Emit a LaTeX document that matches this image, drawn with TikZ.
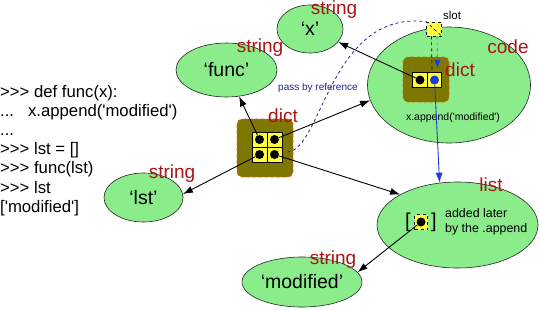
\documentclass[tikz,border=0pt]{standalone}
\usepackage{fontspec}
\setmainfont{Liberation Sans}
\usetikzlibrary{shapes.geometric,arrows.meta}
\definecolor{blobgreen}{HTML}{8AEC8A}
\definecolor{typered}{HTML}{A81616}
\definecolor{olivebox}{HTML}{7F7800}
\definecolor{dashorange}{HTML}{E0600A}
\definecolor{cellyellow}{HTML}{FFFF40}
\definecolor{navy}{HTML}{22228C}
\definecolor{refblue}{HTML}{1A3CD8}
\definecolor{slotgreen}{HTML}{1A8A4A}
\tikzset{
  blob/.style={ellipse, draw=black!85, line width=0.6pt, fill=blobgreen, inner sep=0pt, font=\fontsize{19.5}{20}\selectfont},
  typelbl/.style={text=typered, font=\fontsize{19}{20}\selectfont, inner sep=0pt},
  dictbox/.style={rectangle, rounded corners=5pt, fill=olivebox, draw=dashorange, dashed, line width=0.8pt},
  cell/.style={rectangle, fill=cellyellow, draw=black, line width=0.7pt, minimum width=15pt, minimum height=15pt, inner sep=0pt},
  dotnode/.style={circle, fill=black, minimum size=9pt, inner sep=0pt},
  codeline/.style={anchor=base west, inner sep=0pt, font=\fontsize{16.7}{19}\selectfont},
  refarrow/.style={draw=black, line width=0.9pt, -{Latex[length=10pt,width=7pt]}},
}
\begin{document}
\begin{tikzpicture}[x=1pt,y=-1pt]
\useasboundingbox (0,0) rectangle (540,309);
% code listing
\node[codeline] (c1) at (0,97) {>{}>{}> def func(x):};
\node[codeline] (c2) at (0,116.2) {...\hspace{14pt}x.append(\textquotesingle modified\textquotesingle)};
\node[codeline] (c3) at (0,135.4) {...};
\node[codeline] (c4) at (0,154.6) {>{}>{}> lst = []};
\node[codeline] (c5) at (0,173.8) {>{}>{}> func(lst)};
\node[codeline] (c6) at (0,193) {>{}>{}> lst};
\node[codeline] (c7) at (0,212.2) {[\textquotesingle modified\textquotesingle]};
% ellipses
\node[blob, minimum width=66pt, minimum height=48pt] (sx) at (310,29) {‘x’};
\node[blob, minimum width=101pt, minimum height=54pt] (sfunc) at (226.5,70) {‘func’};
\node[blob, minimum width=79pt, minimum height=49pt] (slst) at (143.5,197.5) {‘lst’};
\node[blob, minimum width=120pt, minimum height=50pt] (smod) at (302,282) {‘modified’};
\node[blob, minimum width=163pt, minimum height=116pt] (code) at (449,85) {};
\node[blob, minimum width=161pt, minimum height=86pt] (list) at (457.5,225) {};
% central dict
\node[dictbox, minimum width=56pt, minimum height=58pt] (dict) at (265,148) {};
\node[cell] (g1) at (259.5,139.5) {};
\node[cell] (g2) at (274.5,139.5) {};
\node[cell] (g3) at (259.5,154.5) {};
\node[cell] (g4) at (274.5,154.5) {};
\node[dotnode] (d1) at (g1) {};
\node[dotnode] (d2) at (g2) {};
\node[dotnode] (d3) at (g3) {};
\node[dotnode] (d4) at (g4) {};
% code dict
\node[dictbox, minimum width=46pt, minimum height=45pt] (cdict) at (426,79.5) {};
\node[cell, minimum width=14.5pt] (cl) at (420,80) {};
\node[cell, minimum width=14.5pt] (cr) at (434.5,80) {};
\node[dotnode] (cdl) at (cl) {};
\node[dotnode, fill=refblue] (cdr) at (cr) {};
\node[inner sep=0pt, font=\fontsize{10.5}{12}\selectfont] (appendtxt) at (453,118) {x.append(\textquotesingle modified\textquotesingle)};
% slot
\node[rectangle, fill=cellyellow, draw=black, dashed, line width=0.6pt, minimum width=15pt, minimum height=14pt, inner sep=0pt] (slot) at (434,29) {};
\node[inner sep=0pt, font=\fontsize{11.5}{13}\selectfont] (slotlbl) at (452,15) {slot};
% list content
\node[inner sep=0pt, font=\fontsize{20}{22}\selectfont] (lbr) at (408,222) {[};
\node[inner sep=0pt, font=\fontsize{20}{22}\selectfont] (rbr) at (434,222) {]};
\node[rectangle, fill=cellyellow, draw=black, dashed, line width=0.6pt, minimum width=13pt, minimum height=15pt, inner sep=0pt] (lcell) at (421,222) {};
\node[dotnode] (ldot) at (lcell) {};
\node[anchor=west, align=left, inner sep=0pt, font=\fontsize{12.4}{14.5}\selectfont] (added) at (445,222) {added later\\by the .append};
% pass by reference
\node[anchor=west, inner sep=0pt, text=navy, font=\fontsize{10}{12}\selectfont] (pbr) at (278,88) {pass by reference};
\draw[navy, dashed, line width=0.8pt] (dict.east) ++(-6,4) coordinate (pstart)
  (pstart) .. controls (322,150) and (330,10) .. (slot.north west) -- (slot.south east);
% slot to blue cell
\draw[black, dashed, line width=0.7pt] ([xshift=-2.5pt]slot.south) -- ([xshift=-2.5pt]cr.north);
\draw[slotgreen, dashed, line width=0.7pt, -{Latex[length=8pt,width=6pt,color=refblue,fill=refblue]}] ([xshift=3pt]slot.south) -- ([xshift=3pt,yshift=4pt]cr.north);
% connectors
\draw[refarrow] (d1) -- (sfunc);
\draw[refarrow] (d3) -- (slst.5);
\draw[refarrow] (d2) -- (code.191);
\draw[refarrow] (d4) -- (list.152);
\draw[refarrow] (cdl) -- (sx);
\draw[refarrow] (ldot) -- (smod.10);
\draw[refblue, line width=0.9pt, -{Latex[length=10pt,width=7pt]}] (cdr) -- (list.113);
% type labels
\node[typelbl] (tx) at (334,10) {string};
\node[typelbl] (tfunc) at (260,48) {string};
\node[typelbl] (tlst) at (172,174) {string};
\node[typelbl] (tmod) at (333,260) {string};
\node[typelbl] (tdict) at (283,116) {dict};
\node[typelbl] (tcdict) at (460,70) {dict};
\node[typelbl] (tcode) at (508,47) {code};
\node[typelbl] (tlist) at (491,185) {list};
\end{tikzpicture}
\end{document}
